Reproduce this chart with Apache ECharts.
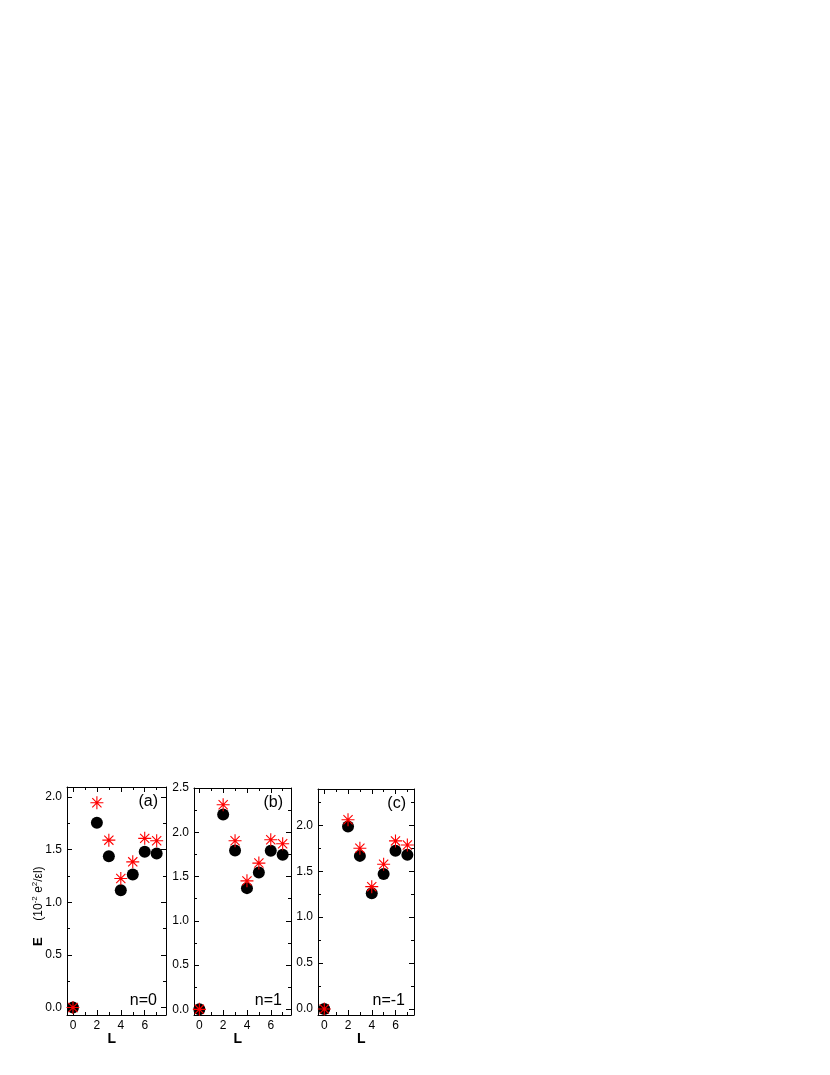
<!DOCTYPE html>
<html>
<head>
<meta charset="utf-8">
<script src="https://cdn.jsdelivr.net/npm/echarts@6/dist/echarts.min.js"></script>
<style>
  html, body { margin: 0; padding: 0; background: #fff; }
  #chart { width: 830px; height: 1075px; }
</style>
</head>
<body>
<div id="chart"></div>
<script>
// angular momentum L
var L = [0, 2, 3, 4, 5, 6, 7];

// black circles / red stars, one pair per panel
var circA = [0, 1.755, 1.438, 1.114, 1.264, 1.479, 1.464];
var starA = [0, 1.946, 1.590, 1.226, 1.384, 1.607, 1.584];
var circB = [0, 2.200, 1.794, 1.369, 1.545, 1.791, 1.745];
var starB = [0, 2.311, 1.904, 1.451, 1.652, 1.915, 1.870];
var circC = [0, 1.986, 1.667, 1.260, 1.470, 1.724, 1.678];
var starC = [0, 2.060, 1.750, 1.332, 1.576, 1.830, 1.786];

// tick values
var xTicks = [0, 2, 4, 6];
var xMinor = [1, 3, 5, 7];
var yTicksA = [0, 0.5, 1.0, 1.5, 2.0];
var yMinorA = [0.25, 0.75, 1.25, 1.75];
var yTicksB = [0, 0.5, 1.0, 1.5, 2.0, 2.5];
var yMinorB = [0.25, 0.75, 1.25, 1.75, 2.25];
var yTicksC = [0, 0.5, 1.0, 1.5, 2.0];
var yMinorC = [0.25, 0.75, 1.25, 1.75, 2.25];

var panelNames = ['(a)', '(b)', '(c)'];
var panelN = ['n=0', 'n=1', 'n=-1'];

var font = 'Liberation Sans, Arial, sans-serif';

var panels = [
  {left: 67, top: 787, width: 99, height: 228, xmin: -0.5, xmax: 7.78, ymin: -0.071, ymax: 2.095,
    circ: circA, star: starA, yt: yTicksA, ym: yMinorA},
  {left: 194, top: 788, width: 97, height: 227, xmin: -0.45, xmax: 7.7, ymin: -0.064, ymax: 2.5,
    circ: circB, star: starB, yt: yTicksB, ym: yMinorB},
  {left: 318, top: 789, width: 96, height: 226, xmin: -0.53, xmax: 7.56, ymin: -0.065, ymax: 2.395,
    circ: circC, star: starC, yt: yTicksC, ym: yMinorC}
];

var starPath = 'path://M0,-10L0,10M-10,0L10,0M-7.07,-7.07L7.07,7.07M-7.07,7.07L7.07,-7.07';

function makeAxis(gi, pos, min, max, ticks, len, showLine, labels, isY) {
  return {
    type: 'value',
    gridIndex: gi,
    position: pos,
    min: min,
    max: max,
    splitLine: {show: false},
    axisLine: {show: showLine, onZero: false, lineStyle: {color: '#000', width: 1}},
    axisTick: {show: true, inside: true, length: len, customValues: ticks, lineStyle: {color: '#000', width: 1}},
    axisLabel: {
      show: labels,
      customValues: ticks,
      margin: 5,
      color: '#000',
      fontFamily: font,
      fontSize: 12,
      formatter: function (v) { return isY ? v.toFixed(1) : String(v); }
    }
  };
}

var grids = [], xAxes = [], yAxes = [], series = [], graphics = [];

panels.forEach(function (p, i) {
  grids.push({left: p.left, top: p.top, width: p.width, height: p.height});

  xAxes.push(makeAxis(i, 'bottom', p.xmin, p.xmax, xTicks, 5, true, true, false));
  xAxes.push(makeAxis(i, 'bottom', p.xmin, p.xmax, xMinor, 3, false, false, false));
  xAxes.push(makeAxis(i, 'top', p.xmin, p.xmax, xTicks, 5, true, false, false));
  xAxes.push(makeAxis(i, 'top', p.xmin, p.xmax, xMinor, 3, false, false, false));

  yAxes.push(makeAxis(i, 'left', p.ymin, p.ymax, p.yt, 5, true, true, true));
  yAxes.push(makeAxis(i, 'left', p.ymin, p.ymax, p.ym, 3, false, false, true));
  yAxes.push(makeAxis(i, 'right', p.ymin, p.ymax, p.yt, 5, true, false, true));
  yAxes.push(makeAxis(i, 'right', p.ymin, p.ymax, p.ym, 3, false, false, true));

  series.push({
    type: 'scatter',
    xAxisIndex: i * 4,
    yAxisIndex: i * 4,
    symbol: 'circle',
    symbolSize: 12,
    itemStyle: {color: '#000', opacity: 1},
    data: L.map(function (l, k) { return [l, p.circ[k]]; })
  });
  series.push({
    type: 'scatter',
    xAxisIndex: i * 4,
    yAxisIndex: i * 4,
    symbol: starPath,
    symbolSize: 13,
    itemStyle: {color: 'none', borderColor: '#ff0000', borderWidth: 1.1, opacity: 1},
    data: L.map(function (l, k) { return [l, p.star[k]]; })
  });

  // panel letter and n label
  graphics.push({
    type: 'text',
    right: 830 - (p.left + p.width) + 8,
    top: p.top + 7,
    style: {text: panelNames[i], font: '16px ' + font, fill: '#000'}
  });
  graphics.push({
    type: 'text',
    right: 830 - (p.left + p.width) + 9,
    top: p.top + p.height - 22,
    style: {text: panelN[i], font: '16px ' + font, fill: '#000'}
  });
  // x axis name
  graphics.push({
    type: 'text',
    left: p.left + p.width / 2 - 9,
    top: p.top + p.height + 17,
    style: {text: 'L', font: 'bold 14px ' + font, fill: '#000'}
  });
});

// y axis title
graphics.push({
  type: 'text',
  x: 38,
  y: 946,
  rotation: Math.PI / 2,
  style: {
    text: '{b|E}{n|     (10}{s|-2}{n| e}{s|2}{n|/εl)}',
    fill: '#000',
    verticalAlign: 'middle',
    rich: {
      b: {font: 'bold 13px ' + font, verticalAlign: 'bottom', lineHeight: 14},
      n: {font: '12px ' + font, verticalAlign: 'bottom', lineHeight: 14},
      s: {font: '8px ' + font, verticalAlign: 'top', lineHeight: 14}
    }
  }
});

var myChart = echarts.init(document.getElementById('chart'));
myChart.setOption({
  animation: false,
  backgroundColor: '#fff',
  grid: grids,
  xAxis: xAxes,
  yAxis: yAxes,
  series: series,
  graphic: graphics
});
</script>
</body>
</html>
